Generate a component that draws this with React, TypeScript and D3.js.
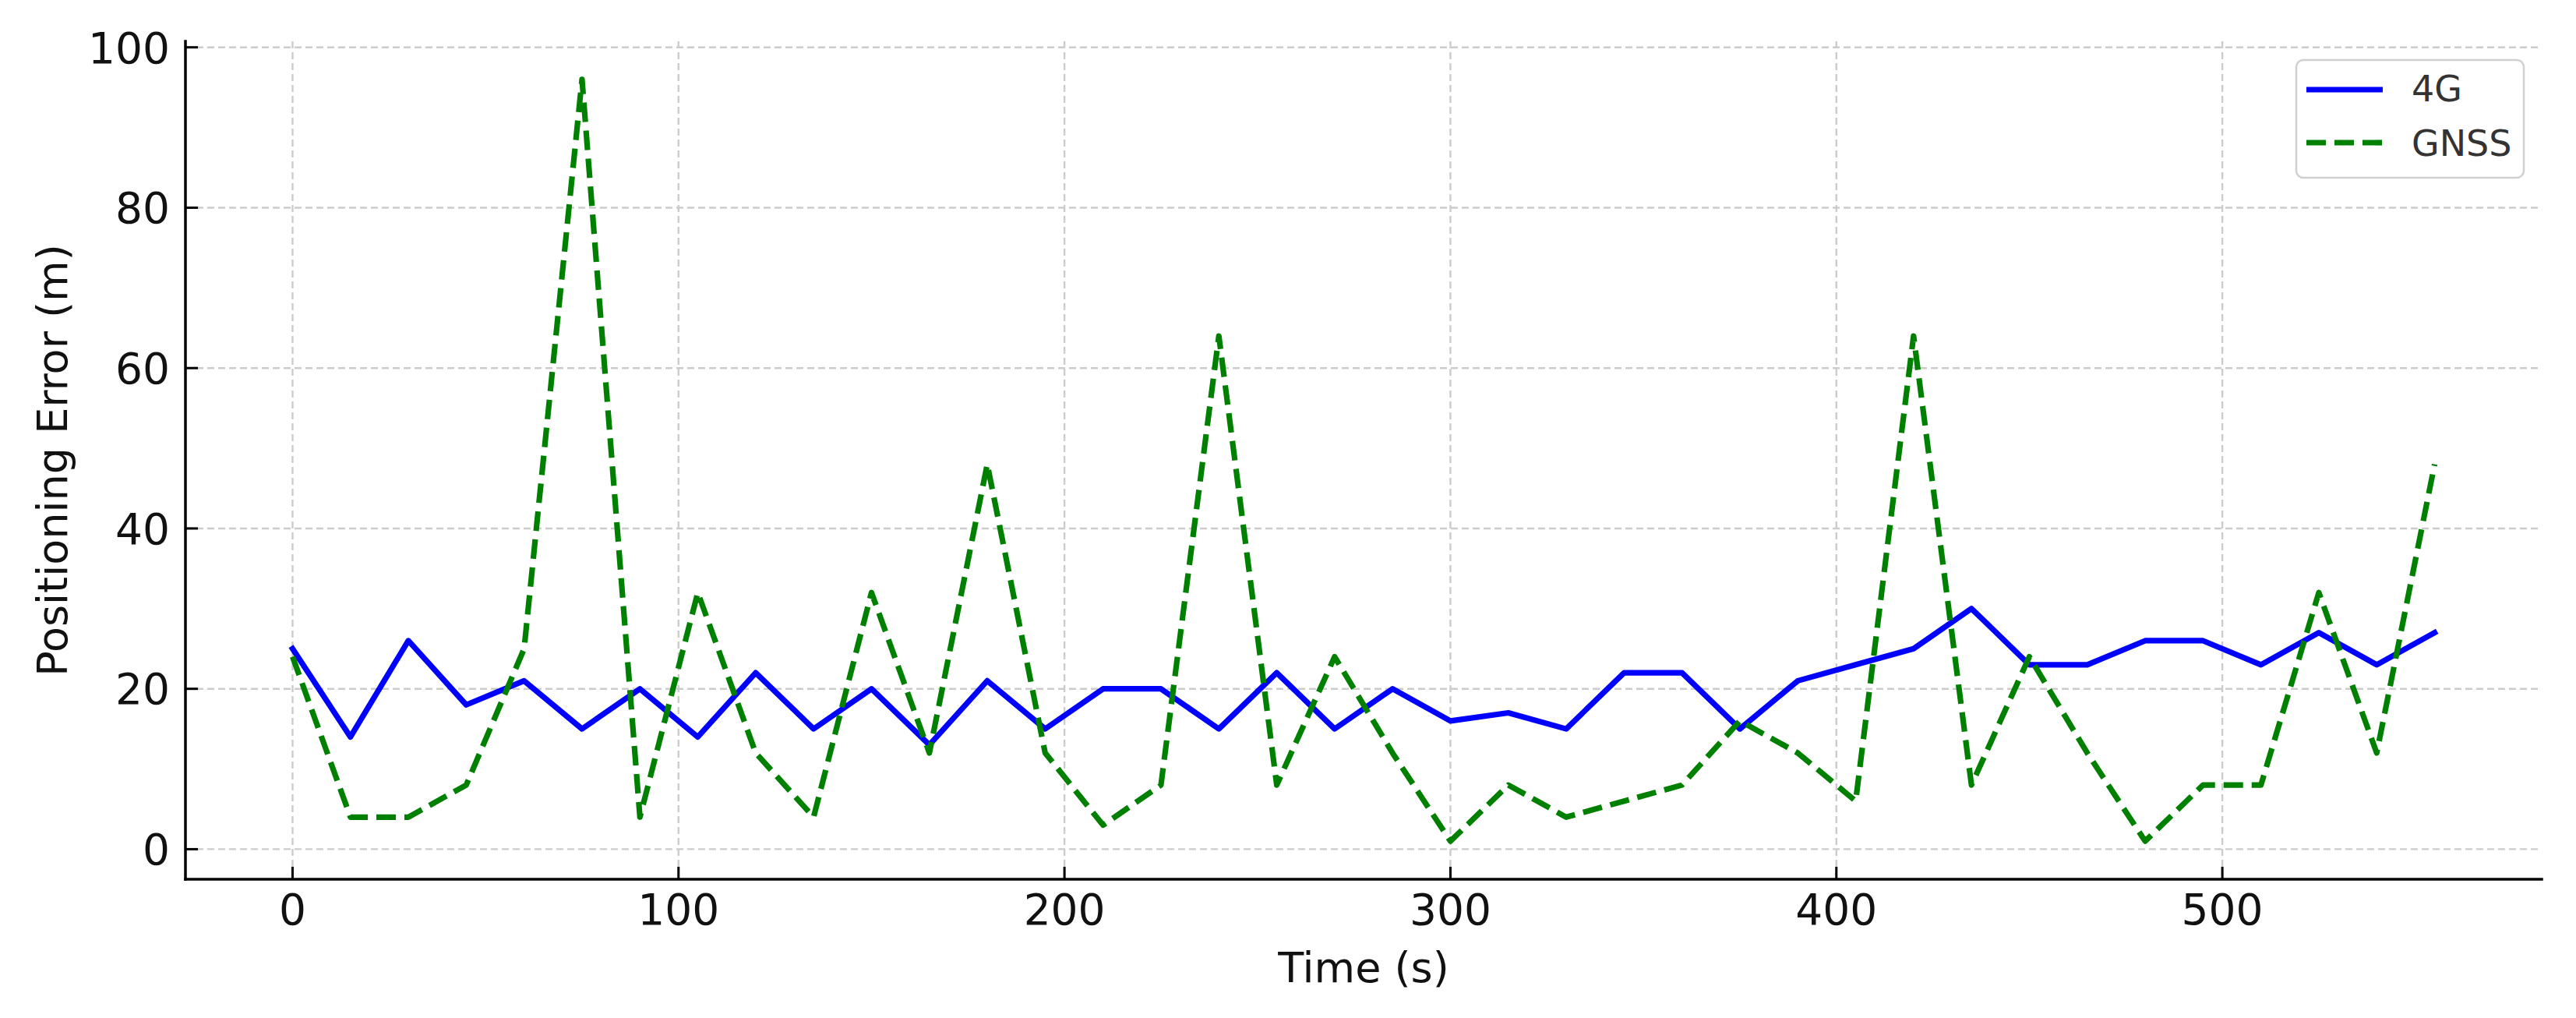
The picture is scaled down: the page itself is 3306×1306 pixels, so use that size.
import * as d3 from 'd3'

const W = 3306
const H = 1306
const M = { left: 238, right: 3262, top: 53, bottom: 1128 }

const times = [
  0, 15, 30, 45, 60, 75, 90, 105, 120, 135, 150, 165, 180, 195, 210, 225, 240, 255, 270,
  285, 300, 315, 330, 345, 360, 375, 390, 405, 420, 435, 450, 465, 480, 495, 510, 525, 540, 555,
]
const lte = [
  25, 14, 26, 18, 21, 15, 20, 14, 22, 15, 20, 13, 21, 15, 20, 20, 15, 22, 15, 20, 16, 17, 15,
  22, 22, 15, 21, 23, 25, 30, 23, 23, 26, 26, 23, 27, 23, 27,
]
const gnss = [
  24, 4, 4, 8, 25, 96, 4, 32, 12, 4, 32, 12, 48, 12, 3, 8, 64, 8, 24, 12, 1, 8, 4, 6, 8, 16,
  12, 6, 64, 8, 24, 12, 1, 8, 8, 32, 12, 48,
]
const xTicks = [0, 100, 200, 300, 400, 500]
const yTicks = [0, 20, 40, 60, 80, 100]

const FONT = 'DejaVu Sans, sans-serif'
const LW = 7.2

export default function App() {
  const x = d3.scaleLinear().domain([-27.75, 582.75]).range([M.left, M.right])
  const y = d3.scaleLinear().domain([-3.75, 100.75]).range([M.bottom, M.top])

  const line = d3
    .line<number>()
    .x((_, i) => x(times[i]))
    .y((d) => y(d))

  const midX = (M.left + M.right) / 2
  const midY = (M.top + M.bottom) / 2

  return (
    <svg
      width={W}
      height={H}
      style={{ position: 'absolute', left: 0, top: 0, background: '#fff' }}
      fontFamily={FONT}
    >
      <rect width={W} height={H} fill="#fff" />
      {/* grid */}
      <g stroke="#cccccc" strokeWidth={2.4} strokeDasharray="9 5">
        {xTicks.map((t) => (
          <line key={`gx${t}`} x1={x(t)} x2={x(t)} y1={M.top} y2={M.bottom} />
        ))}
        {yTicks.map((t) => (
          <line key={`gy${t}`} x1={M.left} x2={M.right} y1={y(t)} y2={y(t)} />
        ))}
      </g>

      {/* series */}
      <path
        d={line(lte) ?? ''}
        fill="none"
        stroke="#0000ff"
        strokeWidth={LW}
        strokeLinejoin="round"
        strokeLinecap="square"
      />
      <path
        d={line(gnss) ?? ''}
        fill="none"
        stroke="#008000"
        strokeWidth={LW}
        strokeDasharray="25 11"
        strokeLinejoin="round"
      />

      {/* spines */}
      <line x1={M.left} x2={M.left} y1={M.top} y2={M.bottom} stroke="#000" strokeWidth={3.5} strokeLinecap="square" />
      <line x1={M.left} x2={M.right} y1={M.bottom} y2={M.bottom} stroke="#000" strokeWidth={3.5} strokeLinecap="square" />

      {/* ticks */}
      <g stroke="#000" strokeWidth={3}>
        {xTicks.map((t) => (
          <line key={`tx${t}`} x1={x(t)} x2={x(t)} y1={M.bottom} y2={M.bottom - 16} />
        ))}
        {yTicks.map((t) => (
          <line key={`ty${t}`} x1={M.left} x2={M.left + 16} y1={y(t)} y2={y(t)} />
        ))}
      </g>
      <g fontSize={55} fill="#111">
        {xTicks.map((t) => (
          <text key={`lx${t}`} x={x(t)} y={1186} textAnchor="middle">
            {t}
          </text>
        ))}
        {yTicks.map((t) => (
          <text key={`ly${t}`} x={218} y={y(t)} dy="0.36em" textAnchor="end">
            {t}
          </text>
        ))}
      </g>

      {/* axis labels */}
      <text x={midX} y={1260} fontSize={54} textAnchor="middle" fill="#111">
        Time (s)
      </text>
      <text
        transform={`translate(86,${midY}) rotate(-90)`}
        fontSize={54}
        textAnchor="middle"
        fill="#111"
      >
        Positioning Error (m)
      </text>

      {/* legend */}
      <g>
        <rect x={2947} y={77} width={292} height={151} rx={9} fill="#fff" fillOpacity={0.8} stroke="#d0d0d0" strokeWidth={2.5} />
        <line x1={2960} x2={3058} y1={115} y2={115} stroke="#0000ff" strokeWidth={LW} />
        <line x1={2960} x2={3058} y1={183} y2={183} stroke="#008000" strokeWidth={LW} strokeDasharray="25 11" />
        <text x={3095} y={130} fontSize={46} fill="#333">
          4G
        </text>
        <text x={3095} y={200} fontSize={46} fill="#333">
          GNSS
        </text>
      </g>
    </svg>
  )
}
